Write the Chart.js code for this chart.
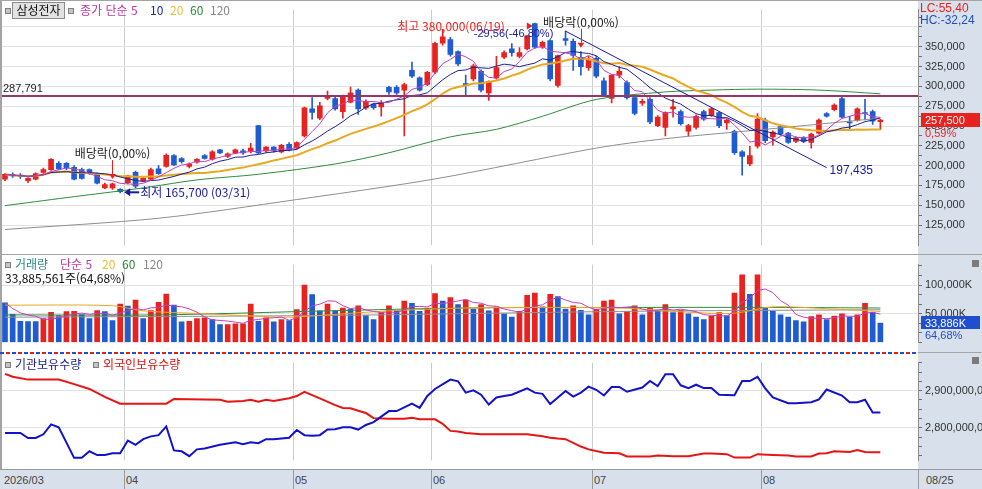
<!DOCTYPE html>
<html lang="ko">
<head>
<meta charset="UTF-8">
<title>삼성전자 일봉</title>
<script src="https://cdn.jsdelivr.net/npm/chart.js@4.4.1/dist/chart.umd.min.js"></script>
<style>
  body { margin: 0; background: #fff; }
  #wrap { position: relative; width: 982px; height: 489px; overflow: hidden; background: #fff;
          font-family: "Noto Sans CJK KR", "Noto Sans", sans-serif; }
  canvas { position: absolute; left: 0; }
  .t { position: absolute; white-space: nowrap; font-size: 12px; line-height: 14px; }
  .n { font-family: "Liberation Sans", sans-serif; font-size: 11px; }
  .sq { position: absolute; width: 4px; height: 4px; background: #c4c4c4; border: 1px solid #808080; }
  .x { position: absolute; width: 7px; height: 7px; background: #7c7c7c; }
  .hl { position: absolute; left: 0; width: 982px; height: 1px; background: #a4a4a4; }
</style>
</head>
<body>
<div id="wrap">
  <canvas id="cPrice" width="982" height="255" style="top:0"></canvas>
  <canvas id="cVol" width="982" height="97" style="top:255px"></canvas>
  <canvas id="cHold" width="982" height="117" style="top:353px"></canvas>

  <div class="hl" style="top:0"></div>
  <div style="position:absolute;left:0;top:0;width:2px;height:489px;background:#a4a4a4"></div>
  <div class="hl" style="top:254px"></div>
  <div style="position:absolute;left:0;top:352px;width:918px;height:2px;
       background:repeating-linear-gradient(90deg,#2050d0 0 4px,#fff 4px 6px,#e02020 6px 10px,#fff 10px 12px)"></div>
  <div style="position:absolute;left:918px;top:352px;width:64px;height:1px;background:#a4a4a4"></div>

  <!-- price legend -->
  <div class="sq" style="left:5px;top:8px"></div>
  <div class="t" style="left:12px;top:2px;width:51px;height:15px;background:#e2e2e2;border:1px solid #8c8c8c;text-align:center;color:#111">삼성전자</div>
  <div class="sq" style="left:68px;top:8px"></div>
  <div class="t" style="left:80px;top:3px;color:#c0389e">종가 단순 5</div>
  <div class="t" style="left:150px;top:3px;color:#1c2a8c">10</div>
  <div class="t" style="left:170px;top:3px;color:#e2bf3c">20</div>
  <div class="t" style="left:190px;top:3px;color:#2a8a3a">60</div>
  <div class="t" style="left:210px;top:3px;color:#8a8a8a">120</div>

  <!-- volume legend -->
  <div class="sq" style="left:5px;top:262px"></div>
  <div class="t" style="left:15px;top:257px;color:#2a8a8a">거래량</div>
  <div class="t" style="left:60px;top:257px;color:#c0389e">단순 5</div>
  <div class="t" style="left:102px;top:257px;color:#e2bf3c">20</div>
  <div class="t" style="left:122px;top:257px;color:#2a8a3a">60</div>
  <div class="t" style="left:143px;top:257px;color:#8a8a8a">120</div>
  <div class="t" style="left:5px;top:271px;color:#111">33,885,561주(64,68%)</div>
  <div class="x" style="left:972px;top:260px"></div>

  <!-- holdings legend -->
  <div class="sq" style="left:5px;top:362px"></div>
  <div class="t" style="left:15px;top:357px;color:#1a1a8c">기관보유수량</div>
  <div class="sq" style="left:93px;top:362px"></div>
  <div class="t" style="left:103px;top:357px;color:#e01010">외국인보유수량</div>
  <div class="x" style="left:972px;top:357px"></div>

  <!-- date band -->
  <div id="band" style="position:absolute;left:0;top:469px;width:982px;height:20px;background:#d8e0ec;border-top:1px solid #9a9a9a"></div>
</div>

<script>
  // ---- data ----
  const monthLabels = ['2026/03', '04', '05', '06', '07', '08'];
  const monthStarts = [0, 16, 38, 56, 77, 99];
  const endLabel = '08/25';

  const opens = [183,189,188,181,183,191.5,195,203,203,198,
    195,195,189,172,172,170,178.5,191.5,181,183,
    196,199,212.7,209,199,204.4,212.7,208,219.8,211.5,
    216,218.6,218.6,250.5,218.6,223.3,217.4,226.9,222.1,237.5,
    271.7,259.9,284.7,284.7,268.2,280,295.3,272.9,277.6,274,
    298.9,298.9,295.3,320.1,310.7,302.4,317.8,354.4,359.1,343.8,
    303.6,309.5,319,291.8,310.7,336.7,347.3,337.8,347.3,379.2,
    349.6,357.9,301.2,360.3,356.7,336.7,323.7,335.5,307.1,284.7,
    314.2,304.8,285.9,278.8,283.5,250.5,248.1,271.7,268.2,243.4,
    248.1,268.2,263.5,267,254,243.4,217.4,202.1,224.5,257.6,
    236.3,249.3,241,230.4,235.1,229.2,241,265.8,270.5,284.7,
    255.2,257.6,267,268.2,255.5].map(v => v * 1000);
  const highs = [190,191,190,185,191,197,209,205,204,200,
    197,196,191,178,178,171,188,193,185,197,
    200,215,214,210,203.5,209,214,219,220.5,216,
    221,221,228,251,224,224,227,229,230,274,
    285.9,280,294,287,289,299,297,283,279,282,
    300,301,304,330.8,312,319,356,372,362,345,
    314.2,328,321,307,337.8,345,354,349,364,380,
    357,359,339.5,369.7,360,343.8,337.8,337.8,310.7,315,
    324.9,307,288,284,286,263,268,283.5,270,252,
    264,270,273,268,259,245,219,224.5,265.8,260,
    244,251,242,236.5,236.5,241,259,267,278,287,
    262.3,273,283.5,270,258.5].map(v => v * 1000);
  const lows = [181,185,184,178.5,182,190,194,195,195,182,
    183,189,177,171,170,165.7,177,172,180,182,
    189,198,200,203,197,203,208,207,215,210,
    215,214,216,215,217,217,216,218.6,221,236,
    258.7,258,283,270,259.9,279,264.6,271,271,262.3,
    290,290,237.5,311,294,301,316,352,338,326,
    288.3,307,293,282.4,309,335,338,336,346,348,
    348,307,299,352,320,314.2,320.1,310.7,287.1,279,
    310.7,284,264,276,253,249,237.5,261.1,251,237.5,
    246,257,262,248,245.8,214,187.9,200,222,229,
    225.7,238,228,229,229,222.1,240,261,269,260,
    245.8,256,257.6,252,245.8].map(v => v * 1000);
  const closes = [189,187,186,184,190,195,208,196,197,183,
    184,190,178,176,177,167,187,174,184,195,
    190,213,201,205,202,208,209,217.4,216,215,
    219.8,216,222,216,223.3,218.6,225.7,219.8,229.2,272.9,
    267,275.3,288.3,271.7,287.1,291.8,271.7,281.2,273,280,
    293,291.8,302.4,313,295.3,317.8,354.4,362.6,340.2,328.4,
    301.2,326,295.3,306,323.7,342.6,342.6,342.6,363.8,349.6,
    355.5,309.5,339,357.9,339,324.9,334.3,313,289.4,314.2,
    319,285.9,265.8,281.2,255.2,261.1,267,274.1,252.8,250.5,
    262.3,258.7,271.7,250.5,257.6,216.2,211.5,212.7,258.7,231.6,
    242.2,239.9,229.2,235.1,230.4,239.9,257.6,262.3,276.4,261.1,
    254,271.7,265.8,256,257.5].map(v => v * 1000);

  // volume, thousand shares
  const volumes = [69.1,49.1,36.7,36.5,36.3,41.4,52.4,46.7,53.9,54.0,
    48.6,41.4,55.7,53.9,38.1,66.7,63.4,73.9,41.4,55.7,
    70.0,84.3,65.3,35.7,36.7,41.4,42.9,39.6,31.0,31.1,
    32.4,32.5,66.7,36.7,42.9,35.7,39.6,38.1,57.1,100.0,
    83.4,54.9,66.7,55,60,58,64,47,40,52,
    64,56,72,68,54,60,85,72,78,66,
    74,58,66,55,62,50,44,54,82,86,
    62,84,80,58,64,56,48,58,72,74,
    50,54,64,48,60,56,66,52,56,50,
    44,40,46,52,47,86,118,84,118,60,
    54,48,44,38,36,45,48,40,46,50,
    44,48,68,52.4,33.886].map(v => v * 1000);

  // long moving averages
  const ma60Idx = [0, 8, 18, 25, 33, 43, 50, 58, 64, 70, 77, 86, 92, 98, 106, 114];
  const ma60Val = [149.5,159.6,171.9,182,189.1,202.1,216.2,236.3,245.8,262.3,283.5,293,295.3,296.5,295.3,290.6].map(v => v * 1000);
  const ma120Idx = [0, 20, 38, 56, 77, 86, 99, 114];
  const ma120Val = [119.4,133.6,157.2,183.2,222.1,234,245.8,259.9].map(v => v * 1000);

  const vma20Idx = [0,14,18,26,34,37,42,50,60,70,80,90,95,100,108,114];
  const vma20Val = [65,64,55,50,45,44,48,55,60,61,60,52,51,62,58,54].map(v => v * 1000);
  const vma60Idx = [0,20,42,60,80,100,114];
  const vma60Val = [48,48,55,60,61,61,60].map(v => v * 1000);
  const vma120Idx = [0,42,80,114];
  const vma120Val = [44,47,54,57].map(v => v * 1000);

  // holdings, million shares
  const instIdx = [0,2,3,4,5,6,7,9,10,11,12,13,14,15,16,17,18,19,20,21,22,23,24,25,26,28,30,31,32,33,34,35,37,38,39,40,41,42,43,44,45,46,47,48,50,51,53,54,55,56,58,
    59,60,61,62,63,64,65,66,68,69,70,71,73,74,75,76,77,78,79,80,81,83,84,85,86,87,88,89,90,91,92,93,95,96,97,98,99,100,102,103,105,106,107,109,110,111,112,113,114];
  const instVal = [2786.3,2786.3,2772.6,2772.6,2782.6,2809.2,2801.6,2719.2,2719.2,2736.9,2726.8,2726.8,2731.4,2731.4,2765.7,2754.3,2769.6,2777.1,2780.3,2803.9,2739.2,2736.9,2723.8,2742.1,2744.4,2754.3,2761.1,2755.9,2761.1,2758.8,2769.6,2769.6,2773.5,2794.1,2780.3,2778.7,2780.3,2795.4,2796.4,2801.6,2801.6,2795.4,2807.8,2815.3,2845.1,2845.1,2865,2853.6,2885.6,2904.6,2929.7,
    2925.2,2894.7,2900.7,2889.2,2862.7,2881.7,2885.6,2889.2,2906.2,2894.7,2891.5,2864.1,2899.3,2884,2894.7,2910.8,2902.3,2887,2909.8,2909.8,2897,2908.5,2925.9,2912.1,2944.2,2944.2,2914.4,2906.9,2916,2906.9,2906.9,2889.2,2887.9,2925.9,2925.9,2937.3,2906.2,2881.7,2866.4,2866.4,2868.7,2876.4,2903,2887,2868.7,2868.7,2875.5,2841.2,2841.2];
  const frgnIdx = [0,1,3,7,9,11,13,15,21,22,28,29,31,32,33,34,35,37,38,39,41,43,44,45,46,47,48,50,52,53,54,56,57,58,
    59,60,62,68,70,71,72,73,75,76,78,80,81,84,85,87,89,91,92,94,95,97,98,100,102,103,105,106,107,108,110,111,112,113,114];
  const frgnVal = [2945.1,2937.3,2929.7,2929.7,2917.6,2904.6,2883.3,2865,2865,2877.8,2875.5,2870.3,2872.5,2875.5,2870.3,2875.5,2872.5,2879.4,2885.6,2897,2879.4,2861.1,2853.6,2852.6,2845.8,2839.8,2826.1,2824.5,2824.5,2826.8,2822.9,2822.9,2810.8,2791.8,
    2790.2,2786.3,2782.6,2782.6,2777.1,2773.5,2771.2,2769.6,2749.7,2742.1,2733,2731.4,2723.1,2723.1,2725.4,2723.8,2723.8,2730.7,2730.7,2729.1,2719.9,2719.9,2729.1,2726.8,2725.4,2723.1,2723.1,2730.7,2731.4,2736.9,2735.3,2740.5,2735.3,2734.6,2734.6];

  const levelValue = 287791;
  const trendIdx = [73, 107];
  const trendVal = [369700, 197435];
  const exDivIdx = [14, 75];
  const highIdx = 69, lowIdx = 15;

  // ---- styling ----
  const RED = '#e8231f', BLUE = '#1f5cd2';
  const AXIS_BG = '#d8e0ec';
  const xMin = -0.39, xMax = 118.9;
  const N = closes.length;
  const idx = closes.map((_, i) => i);

  function movingAvg(src, n) {
    return src.map((_, i) => {
      const from = Math.max(0, i - n + 1);
      let s = 0;
      for (let k = from; k <= i; k++) s += src[k];
      return s / (i - from + 1);
    });
  }
  const pts = (xs, ys) => xs.map((x, i) => ({ x: x, y: ys[i] }));
  const fmt = v => Math.round(v).toLocaleString('en-US');

  const candleColor = idx.map(i => closes[i] >= opens[i] ? RED : BLUE);
  const volColor = idx.map(i => (i > 0 && volumes[i] >= volumes[i - 1]) ? RED : BLUE);

  function line(data, color, width, order, tension) {
    return { type: 'line', data: data, borderColor: color, borderWidth: width, pointRadius: 0,
             tension: tension || 0, order: order, fill: false };
  }

  const frame = {
    id: 'frame',
    beforeDraw(chart) {
      const { ctx, chartArea: a, width, height } = chart;
      const xs = chart.scales.x;
      ctx.save();
      ctx.fillStyle = AXIS_BG;
      ctx.fillRect(a.right, 0, width - a.right, height);
      ctx.strokeStyle = '#cdcdcd';
      ctx.lineWidth = 1;
      monthStarts.slice(1).forEach(m => {
        const px = Math.round(xs.getPixelForValue(m - 0.5)) + 0.5;
        ctx.beginPath(); ctx.moveTo(px, a.top); ctx.lineTo(px, a.bottom); ctx.stroke();
      });
      ctx.restore();
    }
  };

  function rightAxis(o) {
    return {
      position: 'right', min: o.min, max: o.max,
      afterFit(s) { s.width = 64; },
      afterBuildTicks(s) { s.ticks = o.ticks.map(v => ({ value: v })); },
      ticks: { autoSkip: false, maxRotation: 0, padding: 3, color: '#333',
               font: { family: 'Liberation Sans', size: 11 }, callback: o.label },
      grid: { color: c => (c.tick && o.major(c.tick.value)) ? '#e2e2e2' : 'rgba(0,0,0,0)',
              tickColor: '#707070', tickLength: 4, drawTicks: true },
      border: { color: '#8c8c8c' }
    };
  }
  const xAxis = { type: 'linear', min: xMin, max: xMax, offset: false, display: false };
  const baseOpts = { responsive: false, animation: false, devicePixelRatio: 1, events: [],
                     plugins: { legend: { display: false }, tooltip: { enabled: false } } };

  // ---- price ----
  const priceTicks = [];
  for (let v = 112500; v <= 387500; v += 12500) priceTicks.push(v);

  const priceMarks = {
    id: 'priceMarks',
    afterDatasetsDraw(chart) {
      const { ctx } = chart;
      const x = chart.scales.x, y = chart.scales.y;
      ctx.save();
      ctx.textBaseline = 'alphabetic';
      // level label
      ctx.font = '11px "Liberation Sans"';
      ctx.fillStyle = '#222';
      ctx.fillText(fmt(levelValue), 3, y.getPixelForValue(levelValue) - 4);

      // ex-dividend markers
      exDivIdx.forEach(i => {
        const px = x.getPixelForValue(i);
        const py = y.getPixelForValue(highs[i]) - 4;
        ctx.fillStyle = RED;
        ctx.beginPath(); ctx.moveTo(px - 3.5, py - 5); ctx.lineTo(px + 3.5, py - 5); ctx.lineTo(px, py); ctx.closePath(); ctx.fill();
        ctx.strokeStyle = RED; ctx.lineWidth = 1;
        ctx.beginPath(); ctx.moveTo(Math.round(px) + 0.5, py - 5); ctx.lineTo(Math.round(px) + 0.5, py - 19); ctx.stroke();
        ctx.fillStyle = '#222';
        ctx.font = '12px "Noto Sans CJK KR"';
        ctx.textAlign = 'center';
        ctx.fillText('배당락(0,00%)', px, py - 21);
      });

      // high marker
      const hx = x.getPixelForValue(highIdx), hy = y.getPixelForValue(highs[highIdx]);
      ctx.fillStyle = RED;
      ctx.beginPath(); ctx.moveTo(hx - 8, hy - 0.5); ctx.lineTo(hx - 8, hy + 6.5); ctx.lineTo(hx - 2, hy + 3); ctx.closePath(); ctx.fill();
      ctx.textAlign = 'right';
      ctx.font = '12px "Noto Sans CJK KR"';
      ctx.fillText('최고 380,000(06/19)', hx - 30, hy + 8);
      ctx.textAlign = 'left';
      ctx.fillStyle = '#2020a0';
      ctx.font = '11px "Liberation Sans"';
      ctx.fillText('-29,56(-46,80%)', hx - 61, hy + 14);

      // low marker
      const lx = x.getPixelForValue(lowIdx) + 4, ly = y.getPixelForValue(lows[lowIdx]) - 0.5;
      ctx.fillStyle = '#1a1aa0';
      ctx.beginPath(); ctx.moveTo(lx, ly); ctx.lineTo(lx + 6, ly - 4); ctx.lineTo(lx + 6, ly + 4); ctx.closePath(); ctx.fill();
      ctx.strokeStyle = '#1a1aa0'; ctx.lineWidth = 2;
      ctx.beginPath(); ctx.moveTo(lx + 5, ly); ctx.lineTo(lx + 15, ly); ctx.stroke();
      ctx.font = '12px "Noto Sans CJK KR"';
      ctx.fillText('최저 165,700 (03/31)', lx + 16, ly + 5);

      // trend line end value
      const tx = x.getPixelForValue(trendIdx[1]), ty = y.getPixelForValue(trendVal[1]);
      ctx.font = '12px "Liberation Sans"';
      ctx.fillText(fmt(trendVal[1]), tx + 3, ty + 6);
      ctx.restore();
    },
    afterDraw(chart) {
      const { ctx, chartArea: a } = chart;
      const y = chart.scales.y;
      ctx.save();
      ctx.font = '12px "Liberation Sans"';
      ctx.fillStyle = RED;
      ctx.fillText('LC:55,40', a.right + 2, 12);
      ctx.fillStyle = '#2050c0';
      ctx.fillText('HC:-32,24', a.right + 2, 24);
      const py = Math.round(y.getPixelForValue(closes[N - 1]));
      ctx.fillStyle = RED;
      ctx.fillRect(a.right + 3, py - 7, 59, 14);
      ctx.font = '11px "Liberation Sans"';
      ctx.fillStyle = '#fff';
      ctx.fillText(fmt(closes[N - 1]), a.right + 7, py + 4);
      ctx.fillStyle = RED;
      ctx.fillText('0,59%', a.right + 7, py + 17);
      ctx.restore();
    }
  };

  new Chart(document.getElementById('cPrice'), {
    type: 'bar',
    data: {
      datasets: [
        line(pts(trendIdx, trendVal), '#1a1aa0', 1, 0),
        line([{ x: xMin, y: levelValue }, { x: xMax, y: levelValue }], '#9a3468', 2, 1),
        line(pts(idx, movingAvg(closes, 5)), '#c040c0', 1, 2),
        line(pts(idx, movingAvg(closes, 10)), '#20208e', 1, 3),
        line(pts(idx, movingAvg(closes, 20)), '#e8a820', 2, 4),
        line(pts(ma60Idx, ma60Val), '#2d8c3c', 1, 5, 0.3),
        line(pts(ma120Idx, ma120Val), '#8e8e8e', 1, 6, 0.3),
        { type: 'bar', data: idx.map(i => ({ x: i, y: [opens[i], closes[i]] })), backgroundColor: candleColor,
          barThickness: 5, grouped: false, minBarLength: 1, order: 8 },
        { type: 'bar', data: idx.map(i => ({ x: i, y: [lows[i], highs[i]] })), backgroundColor: candleColor,
          barThickness: 1, grouped: false, order: 9 }
      ]
    },
    options: Object.assign({}, baseOpts, {
      layout: { padding: { left: 2, right: 0, top: 2, bottom: 1 } },
      scales: {
        x: xAxis,
        y: rightAxis({
          min: 99350, max: 396870, ticks: priceTicks,
          major: v => v % 25000 === 0 && v >= 125000 && v <= 375000,
          label: v => (v % 25000 === 0 && v >= 125000 && v <= 350000) ? fmt(v) : ''
        })
      }
    }),
    plugins: [frame, priceMarks]
  });

  // ---- volume ----
  const volTicks = [];
  for (let k = 0; k <= 8; k++) volTicks.push(k * 50000 / 3);
  const isVolMajor = v => Math.round(v) > 0 && Math.round(v) % 50000 === 0;

  const volMarks = {
    id: 'volMarks',
    afterDraw(chart) {
      const { ctx, chartArea: a } = chart;
      const py = Math.round(chart.scales.y.getPixelForValue(volumes[N - 1]));
      ctx.save();
      ctx.fillStyle = '#1f4fd0';
      ctx.fillRect(a.right + 3, py - 7, 59, 13);
      ctx.font = '11px "Liberation Sans"';
      ctx.fillStyle = '#fff';
      ctx.fillText(fmt(volumes[N - 1]) + 'K', a.right + 7, py + 4);
      ctx.fillStyle = '#1f4fd0';
      ctx.fillText('64,68%', a.right + 7, py + 16);
      ctx.restore();
    }
  };

  new Chart(document.getElementById('cVol'), {
    type: 'bar',
    data: {
      datasets: [
        line(pts(idx, movingAvg(volumes, 5)), '#c040c0', 1, 0),
        line(pts(vma20Idx, vma20Val), '#e8a820', 1, 1, 0.3),
        line(pts(vma60Idx, vma60Val), '#2d8c3c', 1, 2, 0.3),
        line(pts(vma120Idx, vma120Val), '#8e8e8e', 1, 3, 0.3),
        { type: 'bar', data: idx.map(i => ({ x: i, y: volumes[i] })), backgroundColor: volColor,
          barThickness: 5, grouped: false, order: 8 }
      ]
    },
    options: Object.assign({}, baseOpts, {
      layout: { padding: { left: 2, right: 0, top: 1, bottom: 1 } },
      scales: {
        x: xAxis,
        y: rightAxis({
          min: 0, max: 135714, ticks: volTicks,
          major: isVolMajor,
          label: v => isVolMajor(v) ? fmt(v) + 'K' : ''
        })
      }
    }),
    plugins: [frame, volMarks]
  });

  // ---- holdings ----
  const holdTicks = [];
  for (let v = 2725; v <= 2975; v += 25) holdTicks.push(v);

  const holdChart = new Chart(document.getElementById('cHold'), {
    type: 'line',
    data: {
      datasets: [
        line(pts(instIdx, instVal), '#1212c8', 2, 0),
        line(pts(frgnIdx, frgnVal), '#e81414', 2, 1)
      ]
    },
    options: Object.assign({}, baseOpts, {
      layout: { padding: { left: 2, right: 0, top: 1, bottom: 1 } },
      scales: {
        x: xAxis,
        y: rightAxis({
          min: 2712.4, max: 2975.5, ticks: holdTicks,
          major: v => v === 2800 || v === 2900,
          label: v => (v === 2800 || v === 2900) ? fmt(v * 1e6) : ''
        })
      }
    }),
    plugins: [frame]
  });

  // ---- date band ----
  const band = document.getElementById('band');
  const xs = holdChart.scales.x;
  monthLabels.forEach((lab, k) => {
    const px = k === 0 ? 2 : Math.round(xs.getPixelForValue(monthStarts[k] - 0.5));
    if (k > 0) {
      const sep = document.createElement('div');
      sep.style.cssText = 'position:absolute;top:0;width:1px;height:20px;background:#9a9a9a;left:' + px + 'px';
      band.appendChild(sep);
    }
    const t = document.createElement('div');
    t.className = 't n';
    t.style.cssText = 'color:#444;top:3px;left:' + (px + 2) + 'px';
    t.textContent = lab;
    band.appendChild(t);
  });
  const rs = document.createElement('div');
  rs.style.cssText = 'position:absolute;top:0;left:918px;width:1px;height:20px;background:#9a9a9a';
  band.appendChild(rs);
  const et = document.createElement('div');
  et.className = 't n';
  et.style.cssText = 'color:#444;top:3px;left:926px';
  et.textContent = endLabel;
  band.appendChild(et);
</script>
</body>
</html>
